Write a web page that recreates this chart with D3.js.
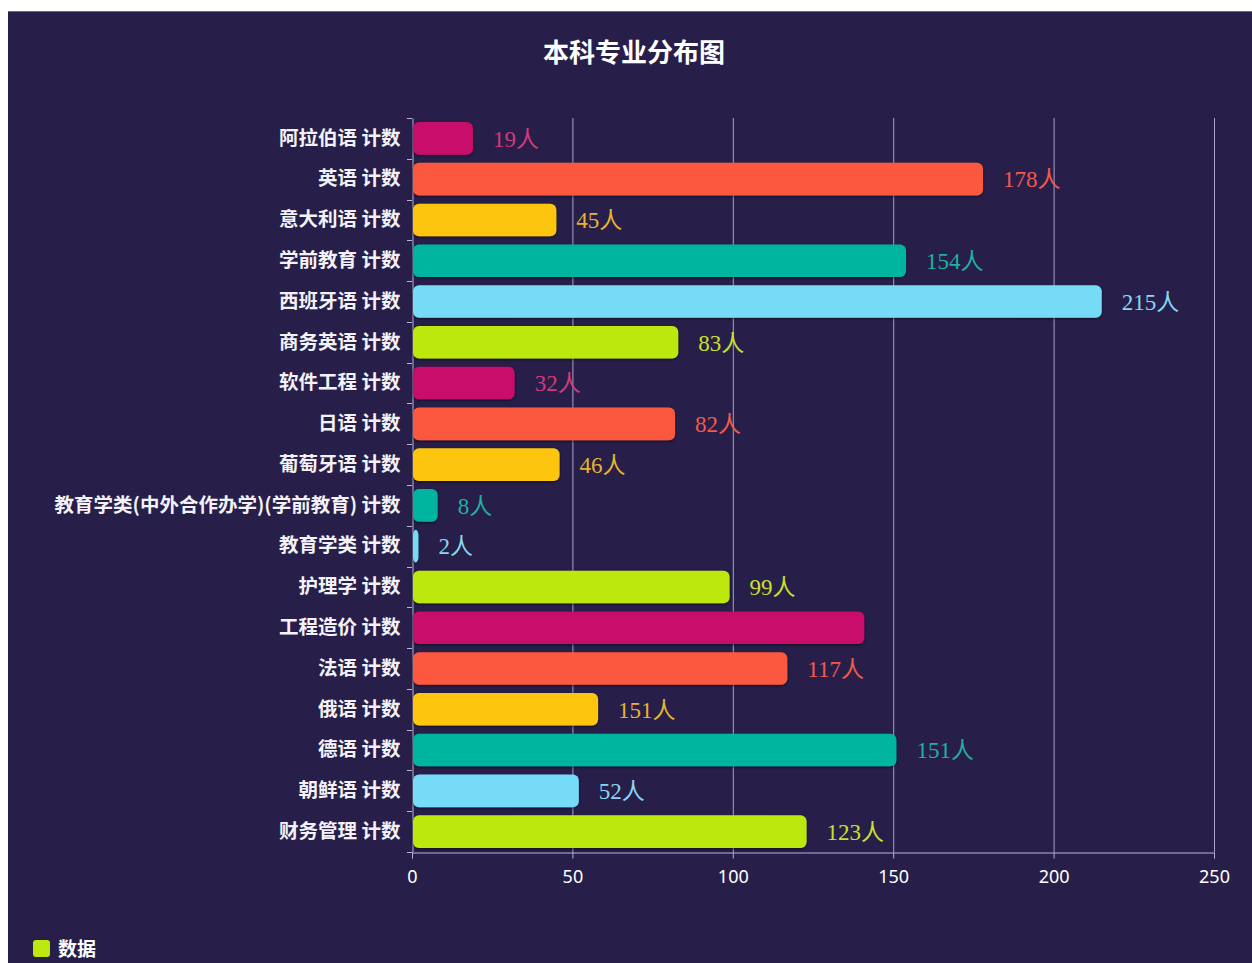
<!DOCTYPE html>
<html><head><meta charset="utf-8">
<script src="https://cdn.jsdelivr.net/npm/d3@7/dist/d3.min.js"></script>
<style>
html,body{margin:0;padding:0;background:#fff;}
svg{display:block;}
</style></head>
<body>
<svg id="chart" width="1252" height="963"></svg>
<script>
const categories = ["阿拉伯语 计数","英语 计数","意大利语 计数","学前教育 计数","西班牙语 计数","商务英语 计数","软件工程 计数","日语 计数","葡萄牙语 计数","教育学类(中外合作办学)(学前教育) 计数","教育学类 计数","护理学 计数","工程造价 计数","法语 计数","俄语 计数","德语 计数","朝鲜语 计数","财务管理 计数"];
const values = [19,178,45,154,215,83,32,82,46,8,2,99,141,117,58,151,52,123];
const labelTexts = ["19人","178人","45人","154人","215人","83人","32人","82人","46人","8人","2人","99人","","117人","151人","151人","52人","123人"];
const xTicks = [0,50,100,150,200,250];
const palette = ["#c80b6a","#fc5840","#fdc50c","#04b5a0","#74dbf7","#bde80f"];
const labelPalette = ["#d03a7a","#f25a4a","#e6b52c","#1fb0a0","#8ad6ee","#c9e02a"];
const title = "本科专业分布图";
const legendName = "数据";

(function(){
const svg = d3.select("#chart");
const W = 1252, H = 963;
svg.append("rect").attr("x",8).attr("y",11).attr("width",W-8).attr("height",H-11).attr("fill","#271f4a");
svg.append("line").attr("x1",8).attr("x2",W).attr("y1",11.5).attr("y2",11.5).attr("stroke","#6b64a0").attr("stroke-width",1);

const defs = svg.append("defs");
const f = defs.append("filter").attr("id","sh").attr("x","-5%").attr("y","-30%").attr("width","110%").attr("height","160%");
f.append("feDropShadow").attr("dx",0).attr("dy",1).attr("stdDeviation",1.5).attr("flood-color","#000").attr("flood-opacity",0.6);

const pLeft = 412, pRight = 1214, pTop = 118, pBottom = 852;
const x = d3.scaleLinear().domain([0,250]).range([pLeft,pRight]);
const y = d3.scaleBand().domain(categories).range([pTop,pBottom]).paddingInner(0.2).paddingOuter(0.1);

svg.append("text").attr("x",634).attr("y",62).attr("text-anchor","middle")
  .attr("font-family","'Noto Sans CJK SC', sans-serif").attr("font-weight","bold").attr("font-size",26)
  .attr("fill","#ffffff").text(title);

// grid
svg.append("g").selectAll("line").data(xTicks.filter(d=>d>0)).join("line")
  .attr("x1",d=>x(d)+0.5).attr("x2",d=>x(d)+0.5).attr("y1",pTop).attr("y2",pBottom)
  .attr("stroke","#a8a3c8").attr("stroke-width",1);

// x axis
const gx = svg.append("g").attr("transform",`translate(0,${pBottom+0.5})`)
  .call(d3.axisBottom(x).tickValues(xTicks).tickSize(6).tickPadding(12));
gx.select(".domain").attr("stroke","#b8b4d4");
gx.selectAll(".tick line").attr("stroke","#b8b4d4");
gx.selectAll("text").attr("fill","#ffffff").attr("font-size",18).attr("font-family","'Noto Sans', sans-serif");

// y axis
const gy = svg.append("g").attr("transform",`translate(${pLeft+0.5},0)`)
  .call(d3.axisLeft(y).tickSize(0).tickPadding(12));
gy.select(".domain").attr("stroke","#b8b4d4");
gy.selectAll("text").attr("fill","#f2f2f8").attr("font-size",19.5)
  .attr("font-family","'Noto Sans CJK SC', sans-serif").attr("font-weight","bold");
const step = y.step();
svg.append("g").selectAll("line").data(d3.range(categories.length+1)).join("line")
  .attr("x1",pLeft-5).attr("x2",pLeft)
  .attr("y1",i=>Math.round(pTop + y.paddingOuter()*step - y.paddingInner()*step/2 + i*step)+0.5)
  .attr("y2",i=>Math.round(pTop + y.paddingOuter()*step - y.paddingInner()*step/2 + i*step)+0.5)
  .attr("stroke","#b8b4d4");

// bars
svg.append("g").selectAll("rect").data(values).join("rect")
  .attr("x",x(0)+1).attr("y",(d,i)=>y(categories[i]))
  .attr("width",d=>Math.max(2,x(d)-x(0)-1)).attr("height",y.bandwidth())
  .attr("rx",d=>Math.min(6,(x(d)-x(0))/2)).attr("ry",6)
  .attr("fill",(d,i)=>palette[i%palette.length]).attr("filter","url(#sh)");

// labels
svg.append("g").selectAll("text").data(values).join("text")
  .attr("x",d=>x(d)+20).attr("y",(d,i)=>y(categories[i])+y.bandwidth()/2)
  .attr("dy","0.36em")
  .attr("font-family","'Liberation Serif', 'Noto Sans CJK SC', serif").attr("font-size",23)
  .attr("fill",(d,i)=>labelPalette[i%labelPalette.length])
  .text((d,i)=>labelTexts[i]);

// legend
svg.append("rect").attr("x",33).attr("y",940).attr("width",17).attr("height",17).attr("rx",3)
  .attr("fill",palette[5]);
svg.append("text").attr("x",58).attr("y",956).attr("font-family","'Noto Sans CJK SC', sans-serif")
  .attr("font-size",19).attr("font-weight","bold").attr("fill","#ffffff").text(legendName);
})();
</script>
</body></html>
